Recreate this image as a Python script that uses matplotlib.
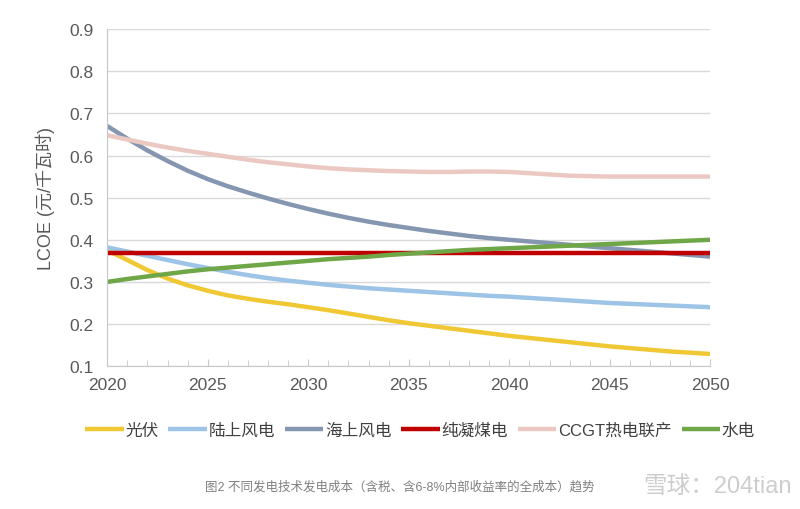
import matplotlib.pyplot as plt
from matplotlib.ticker import MultipleLocator

plt.rcParams['font.family'] = ['Liberation Sans', 'Noto Sans CJK SC', 'DejaVu Sans']

# Data
years = list(range(2020, 2051))
pv = [.375, .352, .328, .308, .292, .279, .268, .260, .253, .247,
      .240, .233, .225, .217, .209, .202, .196, .190, .184, .178,
      .172, .167, .162, .157, .152, .147, .143, .139, .135, .132, .129]
onshore_wind = [.382, .372, .362, .352, .342, .333, .324, .316, .309, .303,
                .298, .293, .289, .285, .282, .279, .276, .273, .270, .267,
                .265, .262, .259, .256, .253, .250, .248, .246, .244, .242, .240]
offshore_wind = [.670, .640, .612, .587, .564, .544, .527, .512, .498, .485,
                 .473, .462, .452, .443, .435, .428, .421, .415, .409, .404,
                 .400, .396, .392, .388, .384, .380, .376, .372, .368, .364, .360]
coal = [.368] * 31
ccgt = [.648, .638, .628, .619, .611, .604, .597, .590, .584, .579,
        .574, .570, .567, .565, .563, .562, .561, .561, .562, .562,
        .561, .558, .555, .552, .551, .550, .550, .550, .550, .550, .550]
hydro = [.300, .307, .313, .319, .325, .330, .334, .338, .342, .346,
         .350, .354, .357, .360, .364, .367, .370, .373, .376, .378,
         .380, .382, .384, .386, .388, .390, .392, .394, .396, .398, .400]

series = [
    ("光伏", pv, "#F0C834"),
    ("陆上风电", onshore_wind, "#9DC3E6"),
    ("海上风电", offshore_wind, "#8496B0"),
    ("纯凝煤电", coal, "#C00000"),
    ("CCGT热电联产", ccgt, "#EBC8C2"),
    ("水电", hydro, "#6FA647"),
]

fig = plt.figure(figsize=(8, 5.1), dpi=100)
ax = fig.add_axes([0.134, 0.280, 0.754, 0.661])

for name, vals, color in series:
    ax.plot(years, vals, color=color, lw=3.2, label=name, solid_capstyle="butt")

ax.set_xlim(2020, 2050)
ax.set_ylim(0.1, 0.9)
ax.xaxis.set_major_locator(MultipleLocator(5))
ax.xaxis.set_minor_locator(MultipleLocator(1))
ax.yaxis.set_major_locator(MultipleLocator(0.1))
ax.yaxis.set_major_formatter(plt.FuncFormatter(lambda v, p: f"{v:.1f}"))
ax.grid(axis="y", color="#d9d9d9", lw=1)
ax.set_axisbelow(True)
for s in ["top", "right"]:
    ax.spines[s].set_visible(False)
for s in ["left", "bottom"]:
    ax.spines[s].set_color("#c8c8c8")
ax.tick_params(axis="y", length=0, labelsize=12.5, labelcolor="#595959", pad=10)
ax.tick_params(axis="x", which="both", direction="in", color="#c8c8c8",
               labelsize=12.5, labelcolor="#595959", pad=8)
ax.tick_params(axis="x", which="major", length=5)
ax.tick_params(axis="x", which="minor", length=4)
ax.set_ylabel("LCOE (元/千瓦时)", fontsize=13, color="#595959", labelpad=10)

fig.legend(loc="center", bbox_to_anchor=(0.525, 0.155), ncol=6, frameon=False,
           fontsize=12, handlelength=2.3, handletextpad=0.1, columnspacing=0.6,
           labelcolor="#404040")

fig.text(0.5, 0.045, "图2 不同发电技术发电成本（含税、含6-8%内部收益率的全成本）趋势",
         ha="center", va="center", fontsize=9, color="#808080")
fig.text(0.99, 0.045, "雪球：204tian", ha="right", va="center", fontsize=17,
         color="#c8c8c8", alpha=0.9)

fig.savefig("out.png", dpi=100, facecolor="white")
